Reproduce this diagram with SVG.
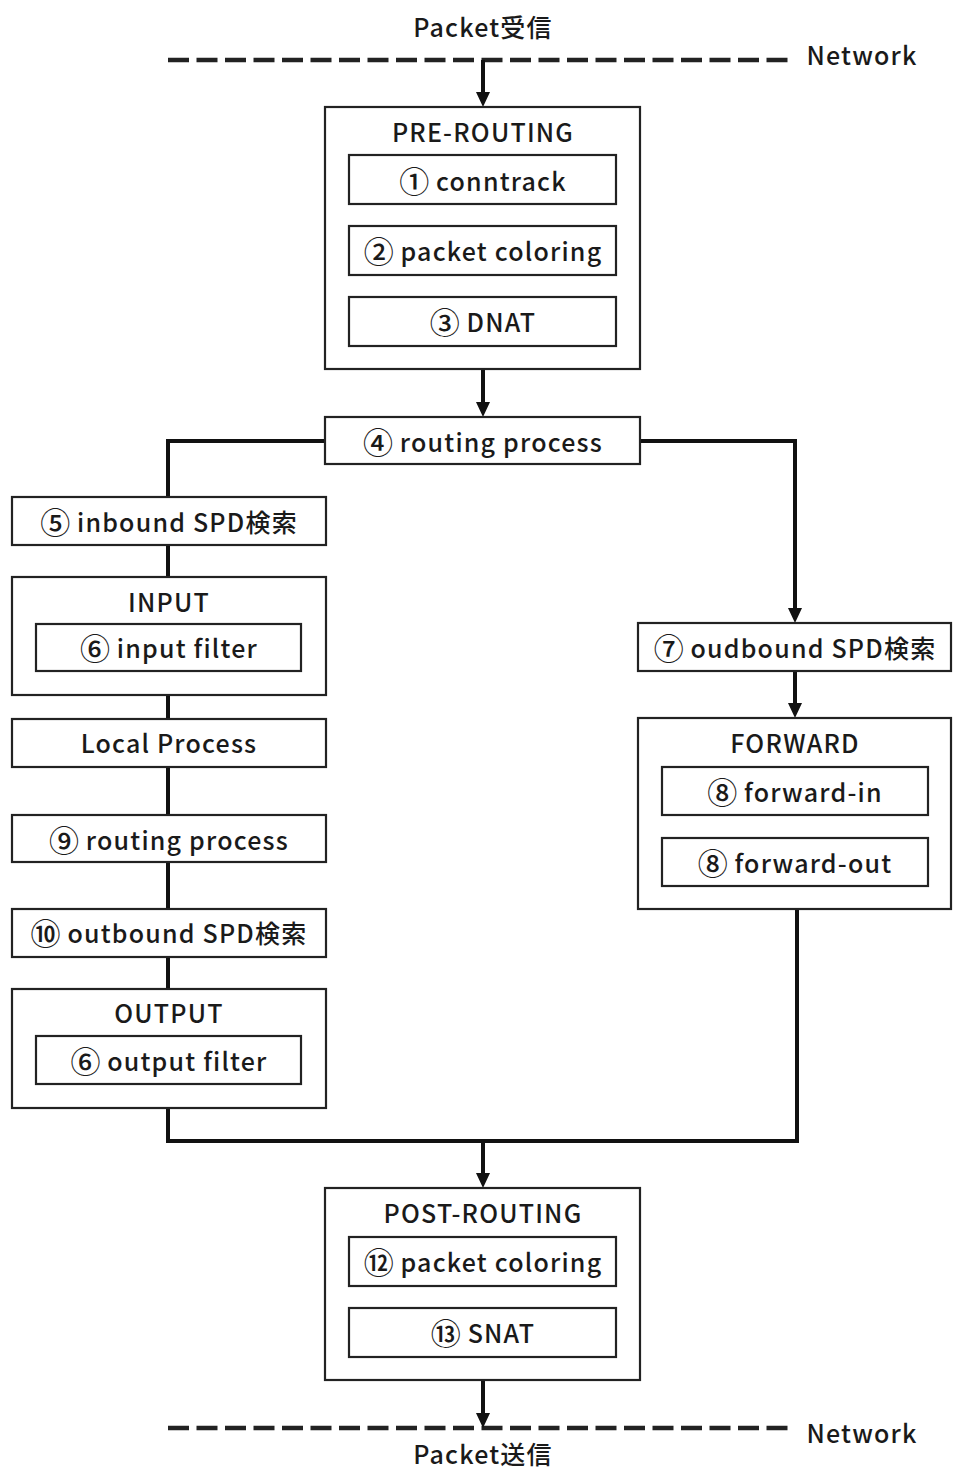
<svg xmlns="http://www.w3.org/2000/svg" width="953" height="1470" viewBox="0 0 953 1470">
<style>
.box{fill:#fff;stroke:#222;stroke-width:2.2}
.t{font-family:"Noto Sans CJK JP","Liberation Sans",sans-serif;font-size:25px;font-weight:500;fill:#1a1a1a;text-anchor:middle;dominant-baseline:central;letter-spacing:1.2px}
.n{font-size:30px;letter-spacing:0}
.c{fill:none;stroke:#111;stroke-width:4}
.d{fill:none;stroke:#222;stroke-width:4.5;stroke-dasharray:21 7.5}
.a{fill:#111}
</style>
<g id="net-top">
<line class="d" x1="168" y1="60" x2="795" y2="60"/>
<text class="t" x="483" y="26">Packet受信</text>
<text class="t" x="862" y="54">Network</text>
</g>
<g id="net-bottom">
<line class="d" x1="168" y1="1428" x2="795" y2="1428"/>
<text class="t" x="483" y="1453">Packet送信</text>
<text class="t" x="862" y="1432">Network</text>
</g>
<g id="connectors">
<line class="c" x1="483" y1="60" x2="483" y2="95"/>
<polygon class="a" points="476,92 490,92 483,107"/>
<line class="c" x1="483" y1="369" x2="483" y2="405"/>
<polygon class="a" points="476,402 490,402 483,417"/>
<polyline class="c" points="325,441 168,441 168,497"/>
<polyline class="c" points="640,441 795,441 795,611"/>
<polygon class="a" points="788,608 802,608 795,623"/>
<line class="c" x1="168" y1="545" x2="168" y2="577"/>
<line class="c" x1="168" y1="695" x2="168" y2="719"/>
<line class="c" x1="168" y1="767" x2="168" y2="815"/>
<line class="c" x1="168" y1="862" x2="168" y2="909"/>
<line class="c" x1="168" y1="957" x2="168" y2="989"/>
<line class="c" x1="795" y1="671" x2="795" y2="706"/>
<polygon class="a" points="788,703 802,703 795,718"/>
<polyline class="c" points="168,1108 168,1141 797,1141 797,909"/>
<line class="c" x1="483" y1="1141" x2="483" y2="1176"/>
<polygon class="a" points="476,1173 490,1173 483,1188"/>
<line class="c" x1="483" y1="1380" x2="483" y2="1416"/>
<polygon class="a" points="476,1413 490,1413 483,1428"/>
</g>
<g id="pre-routing">
<rect class="box" x="325" y="107" width="315" height="262"/>
<text class="t" x="483" y="131">PRE-ROUTING</text>
</g>
<g id="conntrack">
<rect class="box" x="349" y="155" width="267" height="49"/>
<text class="t" x="483" y="180"><tspan class="n">①</tspan> conntrack</text>
</g>
<g id="packet-coloring-pre">
<rect class="box" x="349" y="226" width="267" height="49"/>
<text class="t" x="483" y="250"><tspan class="n">②</tspan> packet coloring</text>
</g>
<g id="dnat">
<rect class="box" x="349" y="297" width="267" height="49"/>
<text class="t" x="483" y="321"><tspan class="n">③</tspan> DNAT</text>
</g>
<g id="routing-process-1">
<rect class="box" x="325" y="417" width="315" height="47"/>
<text class="t" x="483" y="441"><tspan class="n">④</tspan> routing process</text>
</g>
<g id="inbound-spd">
<rect class="box" x="12" y="497" width="314" height="48"/>
<text class="t" x="169" y="521"><tspan class="n">⑤</tspan> inbound SPD検索</text>
</g>
<g id="input">
<rect class="box" x="12" y="577" width="314" height="118"/>
<text class="t" x="169" y="601">INPUT</text>
</g>
<g id="input-filter">
<rect class="box" x="36" y="624" width="265" height="47"/>
<text class="t" x="169" y="647"><tspan class="n">⑥</tspan> input filter</text>
</g>
<g id="local-process">
<rect class="box" x="12" y="719" width="314" height="48"/>
<text class="t" x="169" y="742">Local Process</text>
</g>
<g id="routing-process-2">
<rect class="box" x="12" y="815" width="314" height="47"/>
<text class="t" x="169" y="839"><tspan class="n">⑨</tspan> routing process</text>
</g>
<g id="outbound-spd">
<rect class="box" x="12" y="909" width="314" height="48"/>
<text class="t" x="169" y="932"><tspan class="n">⑩</tspan> outbound SPD検索</text>
</g>
<g id="output">
<rect class="box" x="12" y="989" width="314" height="119"/>
<text class="t" x="169" y="1012">OUTPUT</text>
</g>
<g id="output-filter">
<rect class="box" x="36" y="1036" width="265" height="48"/>
<text class="t" x="169" y="1060"><tspan class="n">⑥</tspan> output filter</text>
</g>
<g id="oudbound-spd">
<rect class="box" x="638" y="623" width="313" height="48"/>
<text class="t" x="795" y="647"><tspan class="n">⑦</tspan> oudbound SPD検索</text>
</g>
<g id="forward">
<rect class="box" x="638" y="718" width="313" height="191"/>
<text class="t" x="795" y="742">FORWARD</text>
</g>
<g id="forward-in">
<rect class="box" x="662" y="767" width="266" height="48"/>
<text class="t" x="795" y="791"><tspan class="n">⑧</tspan> forward-in</text>
</g>
<g id="forward-out">
<rect class="box" x="662" y="838" width="266" height="48"/>
<text class="t" x="795" y="862"><tspan class="n">⑧</tspan> forward-out</text>
</g>
<g id="post-routing">
<rect class="box" x="325" y="1188" width="315" height="192"/>
<text class="t" x="483" y="1212">POST-ROUTING</text>
</g>
<g id="packet-coloring-post">
<rect class="box" x="349" y="1237" width="267" height="49"/>
<text class="t" x="483" y="1261"><tspan class="n">⑫</tspan> packet coloring</text>
</g>
<g id="snat">
<rect class="box" x="349" y="1308" width="267" height="49"/>
<text class="t" x="483" y="1332"><tspan class="n">⑬</tspan> SNAT</text>
</g>
</svg>
